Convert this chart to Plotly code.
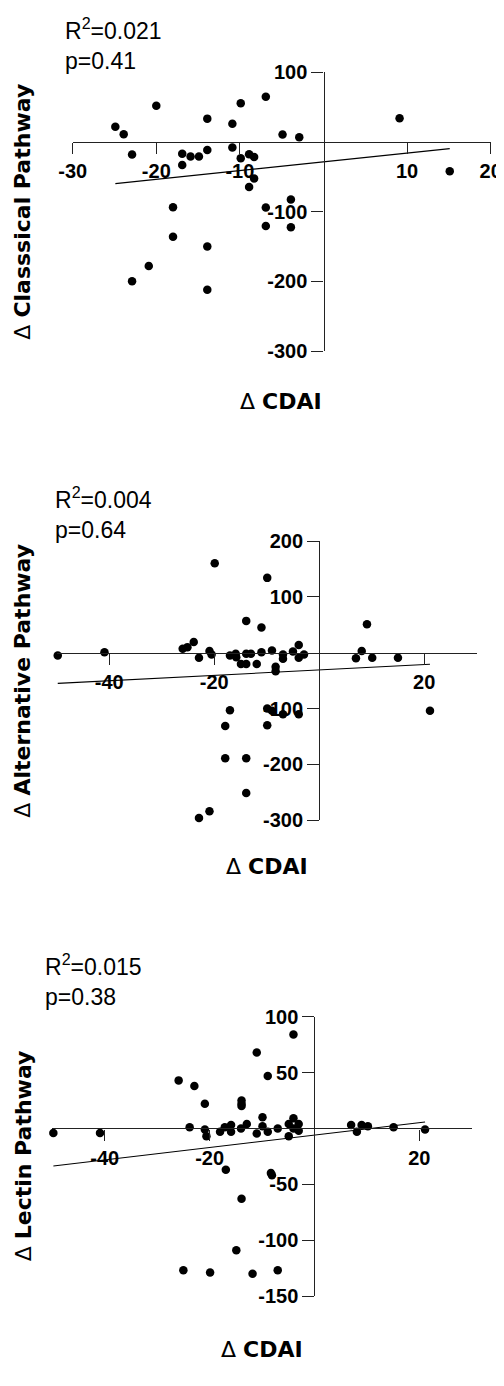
import plotly.graph_objects as go

# ---------------- data ----------------
cp_cdai = [-24.9, -23.9, -22.9, -20.0, -16.9, -16.9, -15.9, -14.9, -13.9, -13.9,
           -10.9, -10.9, -9.9, -9.9, -8.9, -8.3, -8.3, -8.9, -6.9, -6.9,
           -6.9, -4.9, -3.9, -3.9, -2.9, 9.1, 15.1, -18.0, -18.0, -13.9,
           -20.9, -22.9, -13.9]
cp_delta = [22, 11, -18, 52, -17, -33, -21, -21, 33.5, -11.5,
            26, -8, 55.5, -23.4, -17.6, -21.5, -52.5, -64.5, 65, -94,
            -120.5, 10.6, -82.6, -122.4, 6.7, 34, -42, -93.7, -136, -150,
            -178, -200, -212]

ap_cdai = [-49.8, -40.9, -26.0, -25.1, -23.9, -22.9, -20.9, -20.5, -19.9, -17.0,
           -15.9, -15.8, -14.9, -13.9, -13.9, -13.0, -13.9, -11.9, -11.0, -11.0,
           -9.9, -9.0, -8.3, -8.3, -6.9, -6.9, -5.0, -3.9, -3.9, -2.9,
           -9.9, -9.0, -6.9, -3.9, -9.9, -17.0, -17.9, -17.9, -13.9, -13.9,
           -22.9, -20.9, 7.0, 8.1, 9.1, 10.1, 15.0, 21.1]
ap_delta = [-5, 1, 7, 10, 19, -9, 3, -3, 160, -5,
            -2, -8, -20, -20, -2, -2, 57, -20, 45, 1,
            134, 4, -25, -33, -3, -11, 2, 14, -9, -3,
            -100, -104, -110, -110, -130, -103, -131, -189, -189, -251,
            -296, -284, -10, 3, 51, -9, -9, -104]

lp_cdai = [-49.8, -40.9, -25.9, -25.0, -23.8, -22.9, -20.9, -20.9, -20.6, -19.9,
           -18.0, -16.9, -17.1, -15.9, -15.9, -14.9, -14.0, -13.9, -13.9, -13.9,
           -13.9, -12.9, -11.8, -11.0, -11.0, -9.9, -9.9, -8.9, -8.9, -8.3,
           -8.1, -7.0, -7.0, -4.9, -4.9, -4.0, -4.0, -4.0, -3.0, -3.0,
           7.0, 8.1, 9.0, 10.2, 15.1, 21.1]
lp_delta = [-4, -4, 43, -127, 1, 38, 22, -1, -7, -129,
            -3, -37, 1, 3, -3, -109, 0, 25, 22, 20,
            -63, 4, -130, 68, -4.5, 10, 2, 47, -3, -40,
            -42, -127, 0, -7, 4, 84, 9, 0, 4, -2,
            3, -3, 3, 2, 1, -1]

fit_slope = [1.255, 0.48, 0.556]
fit_intercept = [-28.5, -30.9, -6.0]
r2_values = ["0.021", "0.004", "0.015"]
p_values = ["0.41", "0.64", "0.38"]
y_titles = ["Classsical Pathway", "Alternative Pathway", "Lectin Pathway"]
x_title = "CDAI"
x_ranges = [[-30, 20], [-50, 30], [-50, 30]]
y_ranges = [[-300, 100], [-300, 200], [-150, 100]]
x_tickvals = [[-30, -20, -10, 10, 20], [-40, -20, 20], [-40, -20, 20]]
y_tickvals = [[100, -100, -200, -300], [200, 100, -100, -200, -300],
              [100, 50, -50, -100, -150]]

xs_all = [cp_cdai, ap_cdai, lp_cdai]
ys_all = [cp_delta, ap_delta, lp_delta]

# ---------------- layout geometry (window pixels) ----------------
# The page body has an 8px default margin, so the figure is drawn offset
# by OFF pixels; window coordinates are converted into figure fractions.
WIN_W, WIN_H = 504, 1386
OFF = 8
W, H = WIN_W - OFF, WIN_H - OFF


def fx(px):
    return (px - OFF) / W


def fy(py):
    return 1 - (py - OFF) / H


boxes = [(72.7, 490.7, 72.3, 351.0),
         (56.7, 476.7, 541.0, 820.3),
         (52.3, 471.7, 1016.7, 1296.0)]
r2_pos = [(63, 12), (53, 481), (43, 948)]
xtitle_pos = [(281, 402), (267, 867), (262, 1349)]
ytitle_x = 23

AX_COLOR = "#222222"
TICK_FONT = dict(family="Liberation Sans", size=20, color="black", weight="bold")

fig = go.Figure()
layout = dict(width=W, height=H, margin=dict(l=0, r=0, t=0, b=0), autosize=False,
              paper_bgcolor="white", plot_bgcolor="white", showlegend=False)
annotations = []

for i in range(3):
    sfx = "" if i == 0 else str(i + 1)
    l, r, t, b = boxes[i]
    xd = [fx(l), fx(r)]
    yd = [fy(b), fy(t)]
    xr, yr = x_ranges[i], y_ranges[i]
    ypos0 = yd[0] + (0 - yr[0]) / (yr[1] - yr[0]) * (yd[1] - yd[0])
    xpos0 = xd[0] + (0 - xr[0]) / (xr[1] - xr[0]) * (xd[1] - xd[0])

    layout["xaxis" + sfx] = dict(
        domain=xd, range=xr, anchor="free", position=ypos0,
        showline=True, linecolor=AX_COLOR, linewidth=1.3,
        ticks="outside", ticklen=11, tickwidth=1.3, tickcolor=AX_COLOR,
        tickvals=x_tickvals[i], ticktext=[str(v) for v in x_tickvals[i]],
        tickfont=TICK_FONT, showgrid=False, zeroline=False, automargin=False,
    )
    layout["yaxis" + sfx] = dict(
        domain=yd, range=yr, anchor="free", position=xpos0,
        showline=True, linecolor=AX_COLOR, linewidth=1.3,
        ticks="outside", ticklen=12, tickwidth=1.3, tickcolor=AX_COLOR,
        tickvals=y_tickvals[i], ticktext=[str(v) for v in y_tickvals[i]],
        tickfont=TICK_FONT, showgrid=False, zeroline=False, automargin=False,
    )

    xa, ya = "x" + sfx, "y" + sfx
    xs, ys = xs_all[i], ys_all[i]
    fig.add_trace(go.Scatter(
        x=xs, y=ys, mode="markers", xaxis=xa, yaxis=ya,
        marker=dict(color="black", size=8.5), cliponaxis=False, hoverinfo="skip"))
    lx = [min(xs), max(xs)]
    ly = [fit_intercept[i] + fit_slope[i] * v for v in lx]
    fig.add_trace(go.Scatter(
        x=lx, y=ly, mode="lines", xaxis=xa, yaxis=ya,
        line=dict(color="black", width=1.1), cliponaxis=False, hoverinfo="skip"))

    px, py = r2_pos[i]
    annotations.append(dict(
        text=f"R<sup>2</sup>={r2_values[i]}<br>p={p_values[i]}",
        xref="paper", yref="paper", x=fx(px), y=fy(py),
        xanchor="left", yanchor="top", align="left", showarrow=False,
        font=dict(family="Liberation Sans", size=23, color="black")))
    annotations.append(dict(
        text=f"Δ <b>{y_titles[i]}</b>", textangle=-90,
        xref="paper", yref="paper", x=fx(ytitle_x), y=(yd[0] + yd[1]) / 2,
        xanchor="center", yanchor="middle", showarrow=False,
        font=dict(family="DejaVu Sans", size=22, color="black")))
    tx, ty = xtitle_pos[i]
    annotations.append(dict(
        text=f"Δ <b>{x_title}</b>",
        xref="paper", yref="paper", x=fx(tx), y=fy(ty),
        xanchor="center", yanchor="middle", showarrow=False,
        font=dict(family="DejaVu Sans", size=22, color="black")))

layout["annotations"] = annotations
fig.update_layout(**layout)
fig.write_html("out.html")
